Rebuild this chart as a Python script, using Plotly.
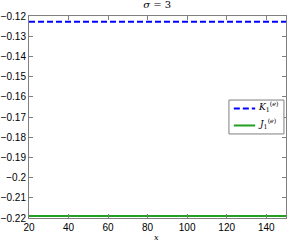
import plotly.graph_objects as go

x_vals = [20, 40, 60, 80, 100, 120, 140, 150]
k_vals = [-0.1228, -0.1228, -0.1228, -0.1228, -0.1228, -0.1228, -0.1228, -0.1228]
j_vals = [-0.2190, -0.2190, -0.2190, -0.2190, -0.2190, -0.2190, -0.2190, -0.2190]
x_ticks = [20, 40, 60, 80, 100, 120, 140]
y_ticks = [-0.12, -0.13, -0.14, -0.15, -0.16, -0.17, -0.18, -0.19, -0.2, -0.21, -0.22]
y_labels = ["\u22120.12", "\u22120.13", "\u22120.14", "\u22120.15", "\u22120.16", "\u22120.17",
            "\u22120.18", "\u22120.19", "\u22120.2", "\u22120.21", "\u22120.22"]
names = ["<i>K</i><sub>1</sub><sup>(<i>e</i>)</sup>", "<i>J</i><sub>1</sub><sup>(<i>e</i>)</sup>"]
colors = ["#0000ff", "#22a022"]
dashes = ["6px,3px", "solid"]

fig = go.Figure()
for yv, nm, c, d in zip([k_vals, j_vals], names, colors, dashes):
    fig.add_trace(go.Scatter(x=x_vals, y=yv, mode="lines",
                             line=dict(color=c, width=2, dash=d), name=nm, showlegend=False))

tickfont = dict(family="Liberation Sans, Arial", size=10, color="#000")
axis_common = dict(showgrid=False, zeroline=False, showline=True, linecolor="#7f7f7f",
                   linewidth=1, mirror="ticks", ticks="inside", ticklen=4,
                   tickcolor="#7f7f7f", tickfont=tickfont, automargin=False)

# custom legend (box, line samples, labels) in paper coordinates
lx0, lx1, ly0, ly1 = 0.778, 0.992, 0.416, 0.584
fig.add_shape(type="rect", xref="paper", yref="paper", x0=lx0, x1=lx1, y0=ly0, y1=ly1,
              line=dict(color="#7f7f7f", width=1), fillcolor="white", layer="above")
entry_y = [0.542, 0.458]
for ey, nm, c, d in zip(entry_y, names, colors, dashes):
    fig.add_shape(type="line", xref="paper", yref="paper", x0=0.797, x1=0.880, y0=ey, y1=ey,
                  line=dict(color=c, width=2, dash=d), layer="above")
    fig.add_annotation(xref="paper", yref="paper", x=0.885, y=ey + 0.01, xanchor="left",
                       yanchor="middle", text=nm, showarrow=False,
                       font=dict(family="DejaVu Serif", size=9, color="#000"))

fig.add_annotation(xref="paper", yref="paper", x=0.498, y=-0.095, xanchor="center",
                   yanchor="middle", text="<i>x</i>", showarrow=False,
                   font=dict(family="DejaVu Serif", size=8, color="#000"))

fig.update_layout(
    width=291, height=241,
    margin=dict(l=29, r=5, t=16, b=23),
    paper_bgcolor="white", plot_bgcolor="white",
    title=dict(text="<i>\u03c3</i> = 3", x=0.54, xanchor="center", y=0.995, yanchor="top",
               font=dict(family="DejaVu Serif", size=10, color="#000")),
    xaxis=dict(range=[20, 150], tickvals=x_ticks, **axis_common),
    yaxis=dict(range=[-0.22, -0.12], tickvals=y_ticks, ticktext=y_labels, **axis_common),
    showlegend=False,
)

fig.write_html("out.html", config={"displayModeBar": False},
               post_script="document.body.style.margin='0';")
